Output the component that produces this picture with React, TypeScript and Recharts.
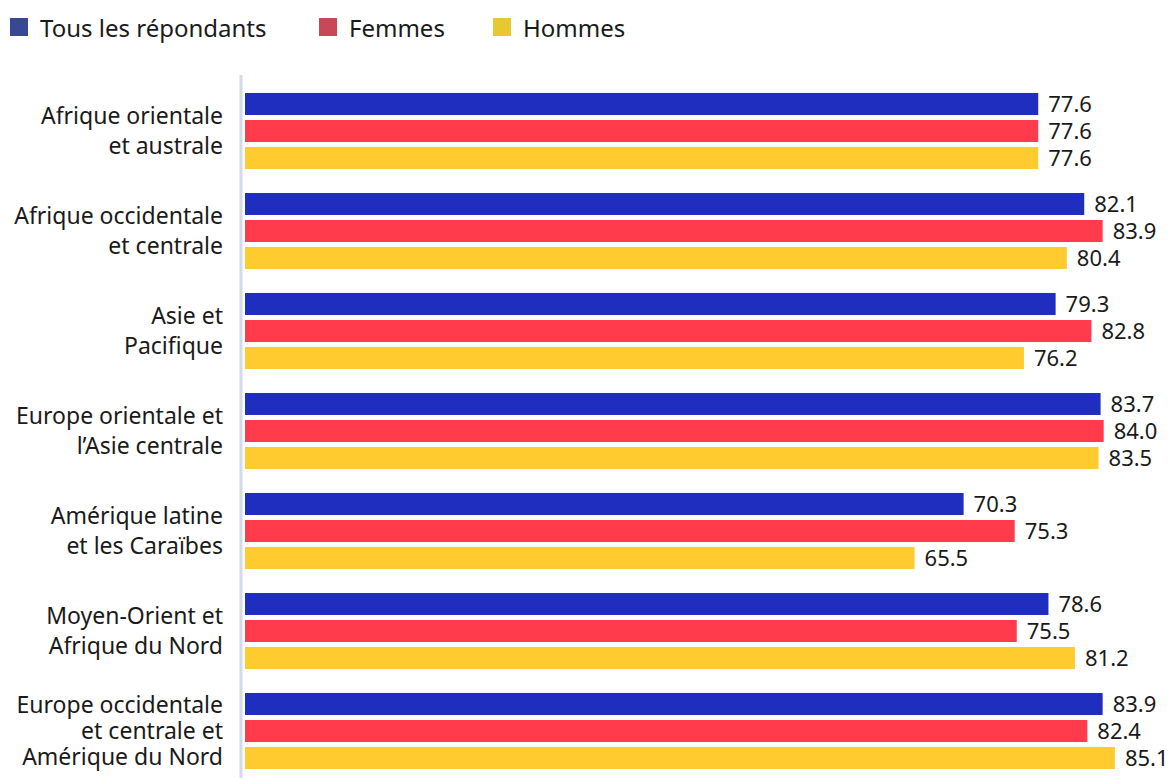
import { BarChart, Bar, XAxis, YAxis, Legend, LabelList } from "recharts";

const regions = [
  "Afrique orientale\net australe",
  "Afrique occidentale\net centrale",
  "Asie et\nPacifique",
  "Europe orientale et\nl’Asie centrale",
  "Amérique latine\net les Caraïbes",
  "Moyen-Orient et\nAfrique du Nord",
  "Europe occidentale\net centrale et\nAmérique du Nord",
];
const tous = [77.6, 82.1, 79.3, 83.7, 70.3, 78.6, 83.9];
const femmes = [77.6, 83.9, 82.8, 84.0, 75.3, 75.5, 82.4];
const hommes = [77.6, 80.4, 76.2, 83.5, 65.5, 81.2, 85.1];

const seriesNames = ["Tous les répondants", "Femmes", "Hommes"];
const barColors = ["#1f2ebf", "#ff3b4c", "#ffcb2e"];
const legendColors = ["#394894", "#c84857", "#e6c832"];

const data = regions.map((r, i) => ({
  region: r,
  tous: tous[i],
  femmes: femmes[i],
  hommes: hommes[i],
}));

const font = "'Noto Sans', sans-serif";

function RegionTick({ x, y, payload }: any) {
  const lines = String(payload.value).split("\n");
  const step = lines.length > 2 ? 26 : 30;
  const start = -((lines.length - 1) * step) / 2;
  return (
    <text x={x - 10} y={y} textAnchor="end" fontFamily={font} fontSize={23} fill="#1a1a1a">
      {lines.map((l, i) => (
        <tspan key={i} x={x - 10} y={y + start + i * step} dy="0.36em">
          {l}
        </tspan>
      ))}
    </text>
  );
}

function LegendBox() {
  const lefts = [10, 319, 493];
  return (
    <div style={{ position: "relative", height: 50, fontFamily: font, fontSize: 24, color: "#1a1a1a" }}>
      {seriesNames.map((n, i) => (
        <div
          key={n}
          style={{ position: "absolute", left: lefts[i], top: 9, height: 36, display: "flex", alignItems: "center" }}
        >
          <span style={{ width: 18, height: 18, background: legendColors[i], marginRight: 12, display: "inline-block" }} />
          <span>{n}</span>
        </div>
      ))}
    </div>
  );
}

const fmt = (v: any) => Number(v).toFixed(1);

export default function App() {
  return (
    <div style={{ position: "absolute", left: 0, top: 0, background: "#fff" }}>
      <BarChart
        width={1169}
        height={781}
        data={data}
        layout="vertical"
        barSize={22}
        barGap={5}
        margin={{ top: 25, right: 4, bottom: 0, left: 0 }}
      >
        <Legend verticalAlign="top" height={50} wrapperStyle={{ top: 0, left: 0 }} content={() => <LegendBox />} />
        <XAxis type="number" domain={[0, 90]} hide padding={{ left: 4, right: 0 }} />
        <YAxis
          type="category"
          dataKey="region"
          width={241}
          axisLine={{ stroke: "#d3dbe6", strokeWidth: 3 }}
          tickLine={false}
          tick={<RegionTick />}
          interval={0}
          padding={{ top: 6, bottom: 0 }}
        />
        {(["tous", "femmes", "hommes"] as const).map((k, i) => (
          <Bar key={k} dataKey={k} name={seriesNames[i]} fill={barColors[i]} isAnimationActive={false}>
            <LabelList
              dataKey={k}
              position="right"
              offset={10}
              formatter={fmt}
              style={{ fontFamily: font, fontSize: 22, fill: "#1a1a1a" }}
            />
          </Bar>
        ))}
      </BarChart>
    </div>
  );
}
